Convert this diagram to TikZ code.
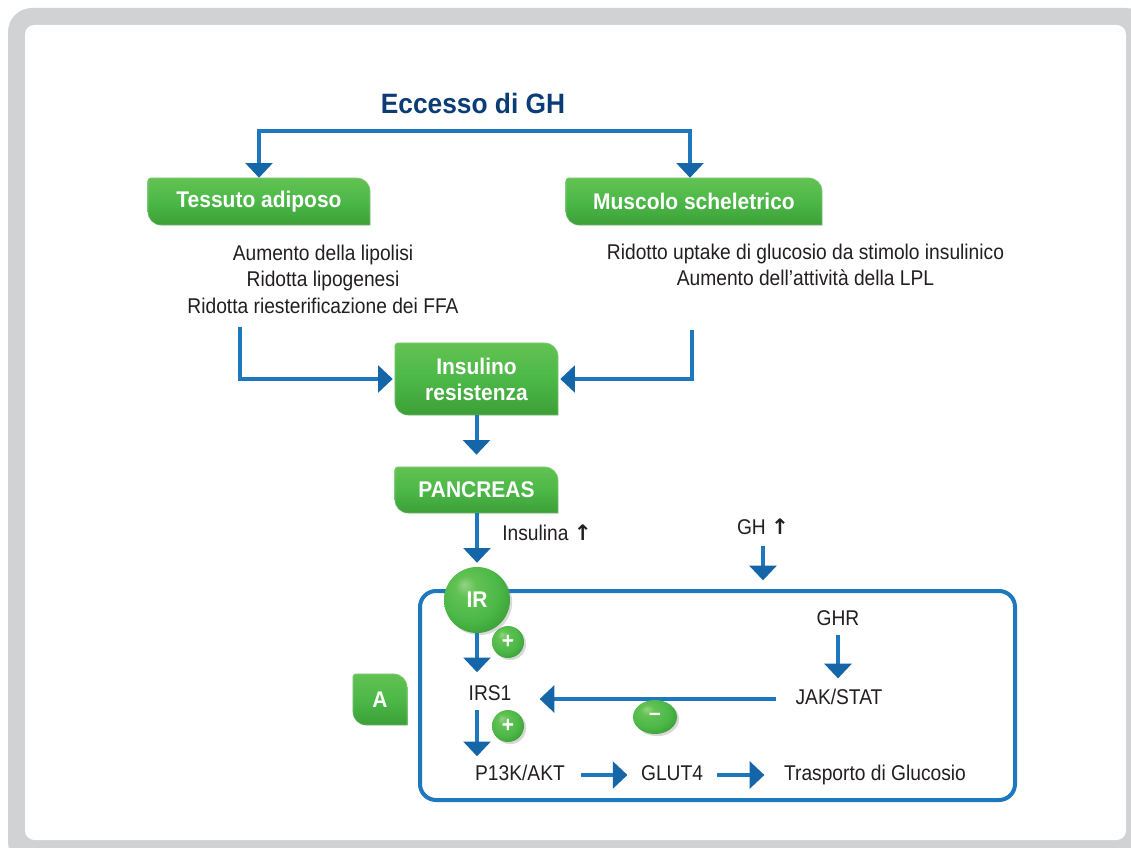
\documentclass[tikz,border=0pt]{standalone}
\usepackage{fontspec}
\newfontfamily\cond{Liberation Sans}[FakeStretch=0.9]
\newfontfamily\condb{Liberation Sans Bold}[FakeStretch=0.925]
\newfontfamily\titlefont{Liberation Sans Bold}[FakeStretch=0.94]
\newfontfamily\symf{DejaVu Sans Bold}
\usetikzlibrary{arrows.meta,calc,shadows,shapes.geometric}
\definecolor{gtop}{HTML}{62C252}
\definecolor{gmid}{HTML}{4CB848}
\definecolor{gbot}{HTML}{3C9F37}
\definecolor{bluec}{HTML}{1D78BE}
\definecolor{bluedk}{HTML}{1566A8}
\definecolor{titlec}{HTML}{0B3C76}
\definecolor{textc}{HTML}{231F20}
\definecolor{framegray}{HTML}{D1D2D4}
\pgfdeclareradialshading{gball}{\pgfpoint{-10bp}{12bp}}{color(0bp)=(gtop!70!white); color(8bp)=(gtop); color(22bp)=(gmid); color(32bp)=(gbot); color(50bp)=(gbot)}
\pgfdeclarelayer{back}
\pgfdeclarelayer{bg}
\pgfsetlayers{back,bg,main}
\newcommand\leafshape[2]{%
  \path[#2] let \p1=(#1.north west), \p2=(#1.south east) in
  (\x1,\y1-2pt) arc[start angle=180,end angle=90,radius=2pt]
  -- (\x2-10pt,\y1) arc[start angle=90,end angle=0,radius=10pt]
  -- (\x2,\y2) -- (\x1+10pt,\y2) arc[start angle=270,end angle=180,radius=10pt] -- cycle;}
\newcommand\leaf[1]{%
  \begin{pgfonlayer}{bg}
  \leafshape{#1}{fill=black,opacity=.22,xshift=2.2pt,yshift=-2.2pt}
  \leafshape{#1}{top color=gtop,bottom color=gbot,middle color=gmid}
  \leafshape{#1}{draw=white,opacity=.25,line width=.8pt}
  \end{pgfonlayer}}
\newcommand\up{{\symf\fontsize{16}{18}\selectfont↑}}
\tikzset{
  txt/.style={font=\fontsize{16}{19.9}\selectfont\cond, text=textc, inner sep=0pt,
    text height=11.5pt, text depth=3pt},
  blocktxt/.style={font=\fontsize{16}{19.9}\selectfont\cond, text=textc, inner sep=0pt, align=center},
  gnode/.style={font=\fontsize{17}{19.5}\selectfont\condb, text=white, inner sep=0pt, align=center},
  ttl/.style={font=\fontsize{21}{24}\selectfont\titlefont, text=titlec, inner sep=0pt},
  ballnode/.style={circle, shading=gball, inner sep=0pt, text=white,
    font=\fontsize{17}{18}\selectfont\condb,
    drop shadow={opacity=.3, shadow xshift=1.6pt, shadow yshift=-1.6pt}},
  arr/.style={draw=bluec, line width=3pt, line join=miter,
    -{Triangle[width=20pt,length=11pt,color=bluedk]}},
  arrboth/.style={draw=bluec, line width=3pt, line join=miter,
    {Triangle[width=20pt,length=11pt,color=bluedk]}-{Triangle[width=20pt,length=11pt,color=bluedk]}},
  cellbox/.style={draw=bluec, line width=3pt, rounded corners=12pt, outer sep=0pt, inner sep=0pt,
    minimum width=446.25pt, minimum height=156.75pt}
}
\begin{document}
\begin{tikzpicture}[x=0.75pt,y=-0.75pt]
\useasboundingbox (0,0) rectangle (1131,848);
\begin{pgfonlayer}{back}
\begin{scope}
\clip (0,0) rectangle (1131,848);
\fill[framegray, rounded corners=18pt] (8,8) rectangle (1150,866);
\fill[white, rounded corners=7pt] (25,25) rectangle (1126,840);
\end{scope}
\end{pgfonlayer}

% title
\node[ttl] (title) at (473,103) {Eccesso di GH};

% green boxes
\node[gnode, minimum width=166.5pt, minimum height=35.25pt] (tess) at (259,201.5) {Tessuto adiposo};
\leaf{tess}
\node[gnode, minimum width=192pt, minimum height=35.25pt] (musc) at (694,201.5) {Muscolo scheletrico};
\leaf{musc}
\node[gnode, minimum width=122.25pt, minimum height=54pt] (ins) at (476.5,379) {Insulino\\resistenza};
\leaf{ins}
\node[gnode, minimum width=122.25pt, minimum height=34.5pt] (panc) at (476.5,490) {PANCREAS};
\leaf{panc}
\node[gnode, minimum width=40.5pt, minimum height=38.25pt] (A) at (380,699.5) {A};
\leaf{A}

% text blocks
\node[blocktxt] (ltxt) at (323,279) {Aumento della lipolisi\\Ridotta lipogenesi\\Ridotta riesterificazione dei FFA};
\node[blocktxt] (rtxt) at (805.5,265) {Ridotto uptake di glucosio da stimolo insulinico\\Aumento dell’attività della LPL};

% top bracket
\coordinate (jl) at (259,131);
\coordinate (jr) at (690,131);
\draw[arrboth] (tess.north -| jl) -- (jl) -- (jr) -- (musc.north -| jr);

% side connectors
\coordinate (ls) at (240,327);
\coordinate (rs) at (692,330);
\draw[arr, shorten >=1.5pt] (ls) -- (ls |- ins.west) -- (ins.west);
\draw[arr, shorten >=1.5pt] (rs) -- (rs |- ins.east) -- (ins.east);
\draw[arr, shorten >=9pt] (ins.south) -- (panc.north);

% cell
\node[cellbox] (cell) at (717.5,695.5) {};

% labels above cell
\node[txt] (insl) at (547,535) {Insulina \up};
\node[txt] (ghl) at (763,529) {GH \up};

% IR and signals
\node[ballnode, minimum size=49.5pt] (IR) at (477,600) {IR};
\draw[arr, shorten >=3pt] (panc.south -| IR.north) -- (IR.north);
\draw[arr, shorten <=5pt, shorten >=8pt] (ghl.south) -- (ghl.south |- cell.north);

\node[txt] (irs1) at (490,695) {IRS1};
\node[txt] (p13k) at (520,775) {P13K/AKT};
\node[txt] (glut) at (672,775) {GLUT4};
\node[txt] (trasp) at (875,775) {Trasporto di Glucosio};
\node[txt] (ghr) at (838,620) {GHR};
\node[txt] (jak) at (839,699) {JAK/STAT};

\draw[arr, shorten >=9.6pt] (IR.south) -- (IR.south |- irs1.north);
\draw[arr, shorten <=4pt, shorten >=6.6pt] (irs1.south -| IR.south) -- (p13k.north -| IR.south);
\draw[arr, shorten <=12pt, shorten >=10pt] (p13k.east) -- (glut.west);
\draw[arr, shorten <=10pt, shorten >=14.6pt] (glut.east) -- (trasp.west);
\draw[arr, shorten <=4pt, shorten >=8pt] (ghr.south) -- (ghr.south |- jak.north);
\draw[arr, shorten <=14.3pt, shorten >=21pt] (jak.west) -- (jak.west -| irs1.east);

\node[ballnode, minimum size=24pt] (p1) at (508,642) {+};
\node[ballnode, minimum size=24pt] (p2) at (508,726) {+};
\node[ballnode, ellipse, minimum width=33pt, minimum height=25.5pt] (m1) at (655,717) {–};
\end{tikzpicture}
\end{document}
